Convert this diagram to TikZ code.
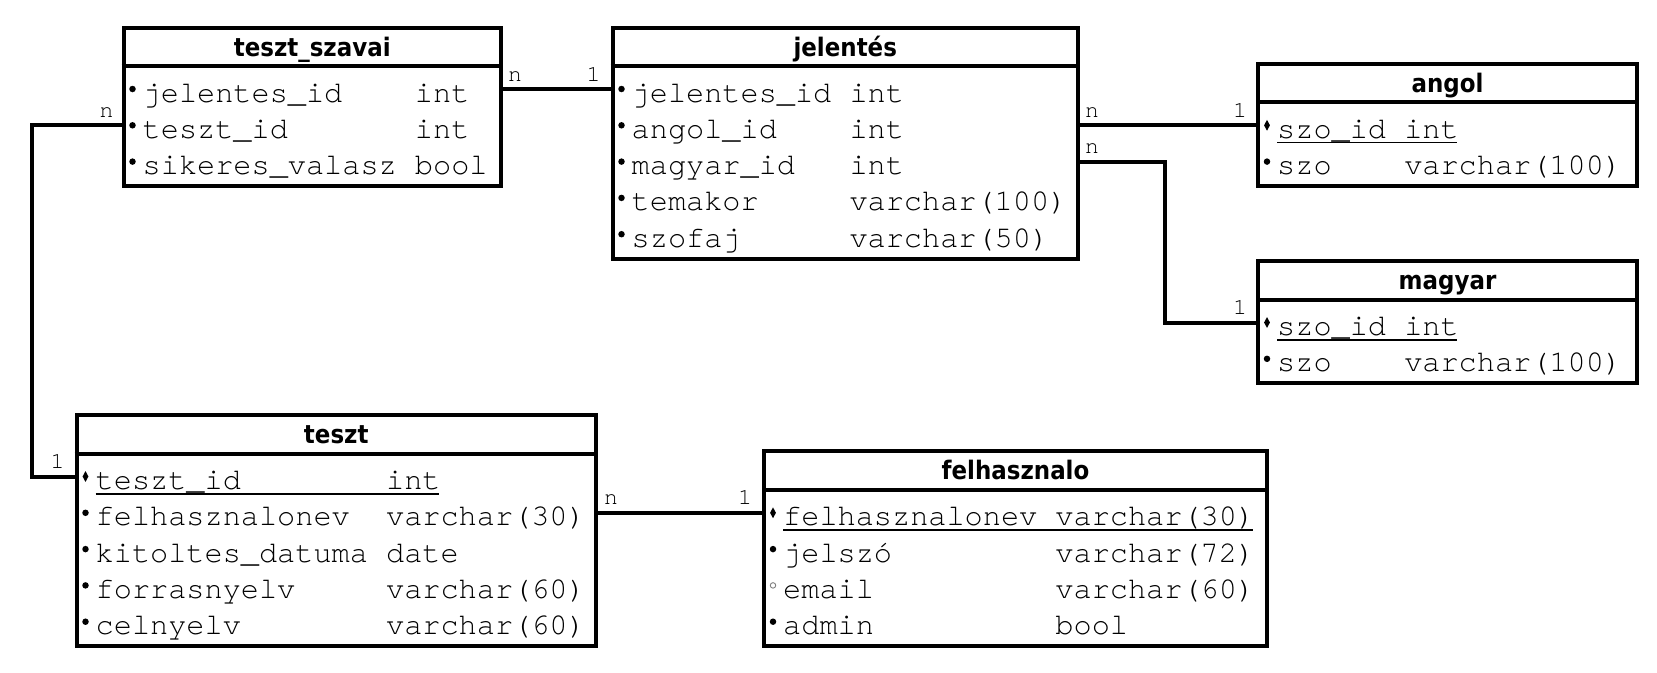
\documentclass[tikz,border=0pt]{standalone}
\usepackage{fontspec}
\usetikzlibrary{calc,shapes.geometric}
\newfontfamily\erhdrfont{DejaVu Sans}[FakeStretch=0.9]
\IfFontExistsTF{texgyrecursor-regular.otf}
  {\newfontfamily\ermonofont{texgyrecursor-regular.otf}\def\ermonosize{30.25}}
  {\newfontfamily\ermonofont{Latin Modern Mono}[FakeStretch=1.143]\def\ermonosize{30.25}}
\tikzset{
  tblbox/.style={draw, line width=4pt, rectangle, inner sep=0pt, fill=white},
  divline/.style={line width=4pt},
  conn/.style={line width=4pt},
  hdr/.style={font=\erhdrfont\bfseries\fontsize{25.5}{30}\selectfont, inner sep=0pt, anchor=base},
  fld/.style={font=\ermonofont\fontsize{\ermonosize}{36}\selectfont, inner sep=0pt, anchor=base west},
  card/.style={font=\ermonofont\fontsize{23}{28}\selectfont, inner sep=0pt},
  nn/.style={circle, fill=black, inner sep=0pt, minimum size=6.5pt},
  opt/.style={circle, draw=gray, line width=0.9pt, inner sep=0pt, minimum size=5.5pt},
  pk/.style={diamond, fill=black, inner sep=0pt, minimum width=6pt, minimum height=11pt},
  ul/.style={line width=1.5pt},
}
% #1 name, #2 L, #3 T, #4 R, #5 rows, #6 title, #7 type column (chars)
\newcommand\ertbl[7]{%
  \def\erN{#1}\def\erL{#2}\def\erT{#3}\def\erR{#4}\def\erK{#7}%
  \pgfmathsetmacro\erH{86+36.3*(#5-1)}%
  \pgfmathsetmacro\erW{#4-#2}%
  \node[tblbox, minimum width=\erW, minimum height=\erH, anchor=north west] (#1) at (#2,#3) {};
  \draw[divline] ($(#1.north west)+(0,40.5)$) -- ($(#1.north east)+(0,40.5)$);
  \node[hdr] (#1-title) at ($(#1.north)+(0,30.5)$) {#6};
}
% #1 row index, #2 marker style, #3 name, #4 type
\newcommand\errow[4]{%
  \pgfmathsetmacro\erY{\erT+76.5+36.3*(#1-1)}%
  \coordinate (\erN-r#1w) at (\erL,\erY-13);
  \coordinate (\erN-r#1e) at (\erR,\erY-13);
  \node[#2] (\erN-m#1) at (\erL+11,\erY-13) {};
  \node[fld] (\erN-n#1) at (\erL+21,\erY) {#3};
  \node[fld] (\erN-t#1) at (\erL+21+\erK*18.15,\erY) {#4};
}
\newcommand\erul[1]{%
  \draw[ul] ($(\erN-n#1.base west)+(0,4.3)$) -- ($(\erN-t#1.base east)+(-2,4.3)$);
}
\begin{document}
\begin{tikzpicture}[x=1pt,y=-1pt]
\useasboundingbox (0,0) rectangle (1657,672);
\fill[white] (0,0) rectangle (1657,672);

% tables
\ertbl{tsz}{121.5}{25.5}{499}{3}{teszt\_szavai}{15}
\errow{1}{nn}{jelentes\_id}{int}
\errow{2}{nn}{teszt\_id}{int}
\errow{3}{nn}{sikeres\_valasz}{bool}

\ertbl{jel}{610.5}{25.5}{1076}{5}{jelentés}{12}
\errow{1}{nn}{jelentes\_id}{int}
\errow{2}{nn}{angol\_id}{int}
\errow{3}{nn}{magyar\_id}{int}
\errow{4}{nn}{temakor}{varchar(100)}
\errow{5}{nn}{szofaj}{varchar(50)}

\ertbl{ang}{1256}{61.8}{1635}{2}{angol}{7}
\errow{1}{pk}{szo\_id}{int}
\erul{1}
\errow{2}{nn}{szo}{varchar(100)}

\ertbl{mag}{1256}{259}{1635}{2}{magyar}{7}
\errow{1}{pk}{szo\_id}{int}
\erul{1}
\errow{2}{nn}{szo}{varchar(100)}

\ertbl{tes}{74.5}{413}{594}{5}{teszt}{16}
\errow{1}{pk}{teszt\_id}{int}
\erul{1}
\errow{2}{nn}{felhasznalonev}{varchar(30)}
\errow{3}{nn}{kitoltes\_datuma}{date}
\errow{4}{nn}{forrasnyelv}{varchar(60)}
\errow{5}{nn}{celnyelv}{varchar(60)}

\ertbl{fel}{762}{449.3}{1265}{4}{felhasznalo}{15}
\errow{1}{pk}{felhasznalonev}{varchar(30)}
\erul{1}
\errow{2}{nn}{jelszó}{varchar(72)}
\errow{3}{opt}{email}{varchar(60)}
\errow{4}{nn}{admin}{bool}

% bend points
\coordinate (bendA) at (1165.3,0);
\coordinate (bendB) at (31.7,0);

% connectors
\draw[conn] (tsz-r1e) -- (jel-r1w);
\draw[conn] (jel-r2e) -- (ang-r1w);
\draw[conn] (jel-r3e) -- (bendA |- jel-r3e) -- (bendA |- mag-r1w) -- (mag-r1w);
\draw[conn] (tsz-r2w) -- (bendB |- tsz-r2w) -- (bendB |- tes-r1w) -- (tes-r1w);
\draw[conn] (tes-r2e) -- (fel-r1w);

% cardinalities
\node[card, anchor=base west] (c1) at ($(tsz-r1e)+(9,-8)$) {n};
\node[card, anchor=base east] (c2) at ($(jel-r1w)+(-10,-8)$) {1};
\node[card, anchor=base east] (c3) at ($(tsz-r2w)+(-8,-8)$) {n};
\node[card, anchor=base east] (c4) at ($(tes-r1w)+(-10,-8)$) {1};
\node[card, anchor=base west] (c5) at ($(jel-r2e)+(9,-8)$) {n};
\node[card, anchor=base east] (c6) at ($(ang-r1w)+(-9,-8)$) {1};
\node[card, anchor=base west] (c7) at ($(jel-r3e)+(9,-8)$) {n};
\node[card, anchor=base east] (c8) at ($(mag-r1w)+(-9,-8)$) {1};
\node[card, anchor=base west] (c9) at ($(tes-r2e)+(10,-8)$) {n};
\node[card, anchor=base east] (c10) at ($(fel-r1w)+(-10,-8)$) {1};
\end{tikzpicture}
\end{document}
